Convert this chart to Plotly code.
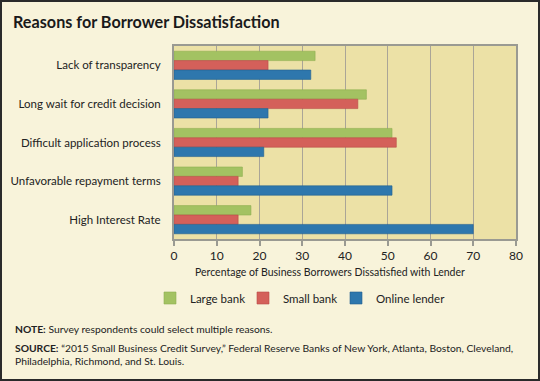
import plotly.graph_objects as go

categories = ["Lack of transparency", "Long wait for credit decision",
              "Difficult application process", "Unfavorable repayment terms",
              "High Interest Rate"]
large_bank = [33, 45, 51, 16, 18]
small_bank = [22, 43, 52, 15, 15]
online_lender = [32, 22, 21, 51, 70]
x_ticks = [0, 10, 20, 30, 40, 50, 60, 70, 80]

W, H = 540, 381
L, R, T, B = 174, 24, 46, 142
pw, ph = W - L - R, H - T - B

FONT = "Lato"
fig = go.Figure()
series = [("Large bank", large_bank, "#a3c262", "#8fae50"),
          ("Small bank", small_bank, "#d4605a", "#b94c47"),
          ("Online lender", online_lender, "#2e77ad", "#215f8f")]
for name, vals, col, edge in series:
    fig.add_trace(go.Bar(y=categories, x=vals, name=name, orientation="h",
                         marker=dict(color=col, line=dict(color=edge, width=0.6))))
# spacer legend entry so the last label is not clipped
fig.add_trace(go.Scatter(x=[None], y=[None], mode="none", name=" ", showlegend=True,
                         hoverinfo="skip"))

fig.update_layout(
    width=W, height=H,
    margin=dict(l=L, r=R, t=T, b=B, autoexpand=False),
    paper_bgcolor="#f8f3da",
    plot_bgcolor="#ece1a6",
    barmode="group", bargap=0.27, bargroupgap=0,
    font=dict(family=FONT, size=11, color="#222"),
    showlegend=True,
    legend=dict(orientation="h", x=(150 - L) / pw, xanchor="left",
                y=-(298 - T - ph) / ph, yanchor="middle",
                entrywidth=48, entrywidthmode="pixels", bgcolor="rgba(0,0,0,0)",
                font=dict(size=11.5), itemclick=False, traceorder="normal"),
    title=dict(text="<b>Reasons for Borrower Dissatisfaction</b>", x=13 / W, xanchor="left",
               y=1 - 22 / H, yanchor="middle", font=dict(size=16.2, family=FONT, color="#1a1a1a")),
)
fig.update_xaxes(range=[0, 80], tickvals=x_ticks, showgrid=True, gridcolor="#aaa597", gridwidth=1,
                 showline=True, linecolor="#9a9a92", linewidth=2, mirror=True,
                 ticks="outside", ticklen=5, tickcolor="#9a9a92", tickwidth=2,
                 tickfont=dict(size=12), zeroline=False, automargin=False)
fig.update_yaxes(autorange="reversed", showline=True, linecolor="#9a9a92", linewidth=2, mirror=True,
                 ticks="", tickfont=dict(size=11.5), ticklabelstandoff=9, automargin=False)

fig.add_annotation(xref="paper", yref="paper", x=(330 - L) / pw, y=-(272 - T - ph) / ph,
                   xanchor="center", yanchor="middle", showarrow=False,
                   text="Percentage of Business Borrowers Dissatisfied with Lender",
                   font=dict(size=10.5))
fig.add_annotation(xref="paper", yref="paper", x=-(L - 13) / pw, y=-(329 - T - ph) / ph,
                   xanchor="left", yanchor="middle", showarrow=False, align="left",
                   text="<b>NOTE:</b> Survey respondents could select multiple reasons.",
                   font=dict(size=10.3))
fig.add_annotation(xref="paper", yref="paper", x=-(L - 13) / pw, y=-(354 - T - ph) / ph,
                   xanchor="left", yanchor="middle", showarrow=False, align="left",
                   text="<b>SOURCE:</b> “2015 Small Business Credit Survey,” Federal Reserve Banks of New York, Atlanta, Boston, Cleveland,<br>Philadelphia, Richmond, and St. Louis.",
                   font=dict(size=10.3))
fig.add_shape(type="rect", xref="paper", yref="paper",
              x0=-(L - 1) / pw, x1=1 + (R - 1) / pw, y0=-(B - 1) / ph, y1=1 + (T - 1) / ph,
              line=dict(color="#2a2a2a", width=2), fillcolor="rgba(0,0,0,0)", layer="above")

fig.write_html("out.html", config={"displayModeBar": False},
               post_script="document.body.style.margin='0';")
